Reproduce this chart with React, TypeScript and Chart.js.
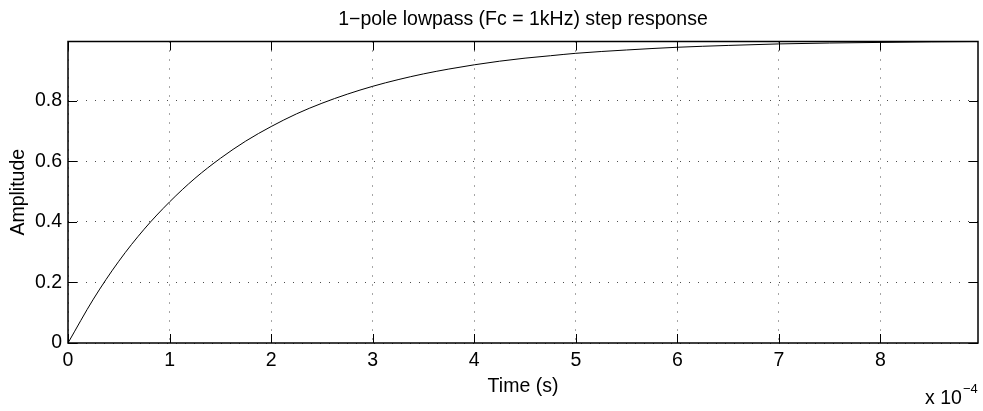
import React, { useEffect, useRef } from "react";
import { Chart, registerables } from "chart.js";

Chart.register(...registerables);

// Time in units of 1e-4 s
const timeE4: number[] = [
  0, 0.25, 0.5, 0.75, 1.0, 1.25, 1.5, 1.75, 2.0, 2.25, 2.5, 2.75, 3.0, 3.25, 3.5,
  3.75, 4.0, 4.25, 4.5, 4.75, 5.0, 5.5, 6.0, 6.5, 7.0, 7.5, 8.0, 8.5, 8.96,
];
const amplitude: number[] = [
  0, 0.145, 0.27, 0.376, 0.466, 0.544, 0.61, 0.667, 0.715, 0.757, 0.792, 0.822,
  0.848, 0.87, 0.889, 0.905, 0.919, 0.931, 0.941, 0.949, 0.957, 0.968, 0.977,
  0.983, 0.988, 0.991, 0.993, 0.995, 0.996,
];
const xTickLabels: string[] = ["0", "1", "2", "3", "4", "5", "6", "7", "8"];
const yTickLabels: string[] = ["0", "0.2", "0.4", "0.6", "0.8"];

const TITLE = "1\u2212pole lowpass (Fc = 1kHz) step response";
const X_LABEL = "Time (s)";
const Y_LABEL = "Amplitude";
const FONT = "'Liberation Sans', Arial, sans-serif";
const FS = 19.5;

const xMax = timeE4[timeE4.length - 1];
const yMax = Math.max(...amplitude);

const decorPlugin = {
  id: "matlabDecor",
  afterDraw(chart: any) {
    const { ctx, chartArea } = chart;
    const { left, right, top, bottom } = chartArea;
    const xs = chart.scales.x;
    const ys = chart.scales.y;
    ctx.save();
    ctx.strokeStyle = "#000";
    // inward ticks
    ctx.lineWidth = 1;
    const tl = 9;
    ctx.beginPath();
    xs.ticks.forEach((t: any) => {
      const px = Math.round(xs.getPixelForValue(t.value)) + 0.5;
      ctx.moveTo(px, bottom);
      ctx.lineTo(px, bottom - tl);
      ctx.moveTo(px, top);
      ctx.lineTo(px, top + tl);
    });
    ys.ticks.forEach((t: any) => {
      const py = Math.round(ys.getPixelForValue(t.value)) + 0.5;
      ctx.moveTo(left, py);
      ctx.lineTo(left + tl, py);
      ctx.moveTo(right, py);
      ctx.lineTo(right - tl, py);
    });
    ctx.stroke();
    // box
    ctx.lineWidth = 1.5;
    ctx.strokeRect(left, top, right - left, bottom - top);

    ctx.fillStyle = "#000";
    // title
    ctx.font = `${FS}px ${FONT}`;
    ctx.textAlign = "center";
    ctx.textBaseline = "alphabetic";
    ctx.fillText(TITLE, (left + right) / 2, 25);
    // x label
    ctx.fillText(X_LABEL, (left + right) / 2, 392);
    // y label
    ctx.save();
    ctx.translate(19, (top + bottom) / 2);
    ctx.rotate(-Math.PI / 2);
    ctx.textBaseline = "middle";
    ctx.fillText(Y_LABEL, 0, 0);
    ctx.restore();
    // exponent
    ctx.textAlign = "left";
    ctx.textBaseline = "alphabetic";
    ctx.font = `${FS}px ${FONT}`;
    ctx.fillText("x 10", 925, 404);
    ctx.font = `13px ${FONT}`;
    ctx.fillText("\u22124", 963, 393);
    ctx.restore();
  },
};

export default function App() {
  const ref = useRef<HTMLCanvasElement | null>(null);
  useEffect(() => {
    document.body.style.margin = "0";
    const canvas = ref.current;
    if (!canvas) return;
    const chart = new Chart(canvas, {
      type: "line",
      data: {
        datasets: [
          {
            data: timeE4.map((t, i) => ({ x: t, y: amplitude[i] })),
            borderColor: "#000",
            borderWidth: 1,
            pointRadius: 0,
            fill: false,
            cubicInterpolationMode: "monotone",
          },
        ],
      },
      options: {
        animation: false,
        responsive: false,
        devicePixelRatio: 1,
        layout: { padding: { top: 41.5, right: 5, left: 0, bottom: 0 } },
        plugins: {
          legend: { display: false },
          title: { display: false },
          tooltip: { enabled: false },
        },
        scales: {
          x: {
            type: "linear",
            min: 0,
            max: xMax,
            afterFit: (s: any) => {
              s.height = 68;
            },
            ticks: {
              stepSize: 1,
              includeBounds: false,
              maxRotation: 0,
              autoSkip: false,
              padding: 6,
              color: "#000",
              font: { family: FONT, size: FS },
              callback: (v: any, i: number) => xTickLabels[i] ?? String(v),
            },
            grid: { color: "rgba(0,0,0,0.7)", drawTicks: false, lineWidth: 1 },
            border: { display: false, dash: [1, 8] },
          },
          y: {
            type: "linear",
            min: 0,
            max: yMax,
            afterFit: (s: any) => {
              s.width = 68;
            },
            ticks: {
              stepSize: 0.2,
              includeBounds: false,
              autoSkip: false,
              padding: 6,
              color: "#000",
              font: { family: FONT, size: FS },
              callback: (v: any, i: number) => yTickLabels[i] ?? String(v),
            },
            grid: { color: "rgba(0,0,0,0.7)", drawTicks: false, lineWidth: 1 },
            border: { display: false, dash: [1, 8] },
          },
        },
      },
      plugins: [decorPlugin],
    } as any);
    return () => chart.destroy();
  }, []);
  return (
    <div style={{ position: "absolute", left: 0, top: 0, width: 983, height: 411, background: "#fff" }}>
      <canvas ref={ref} width={983} height={411} />
    </div>
  );
}
